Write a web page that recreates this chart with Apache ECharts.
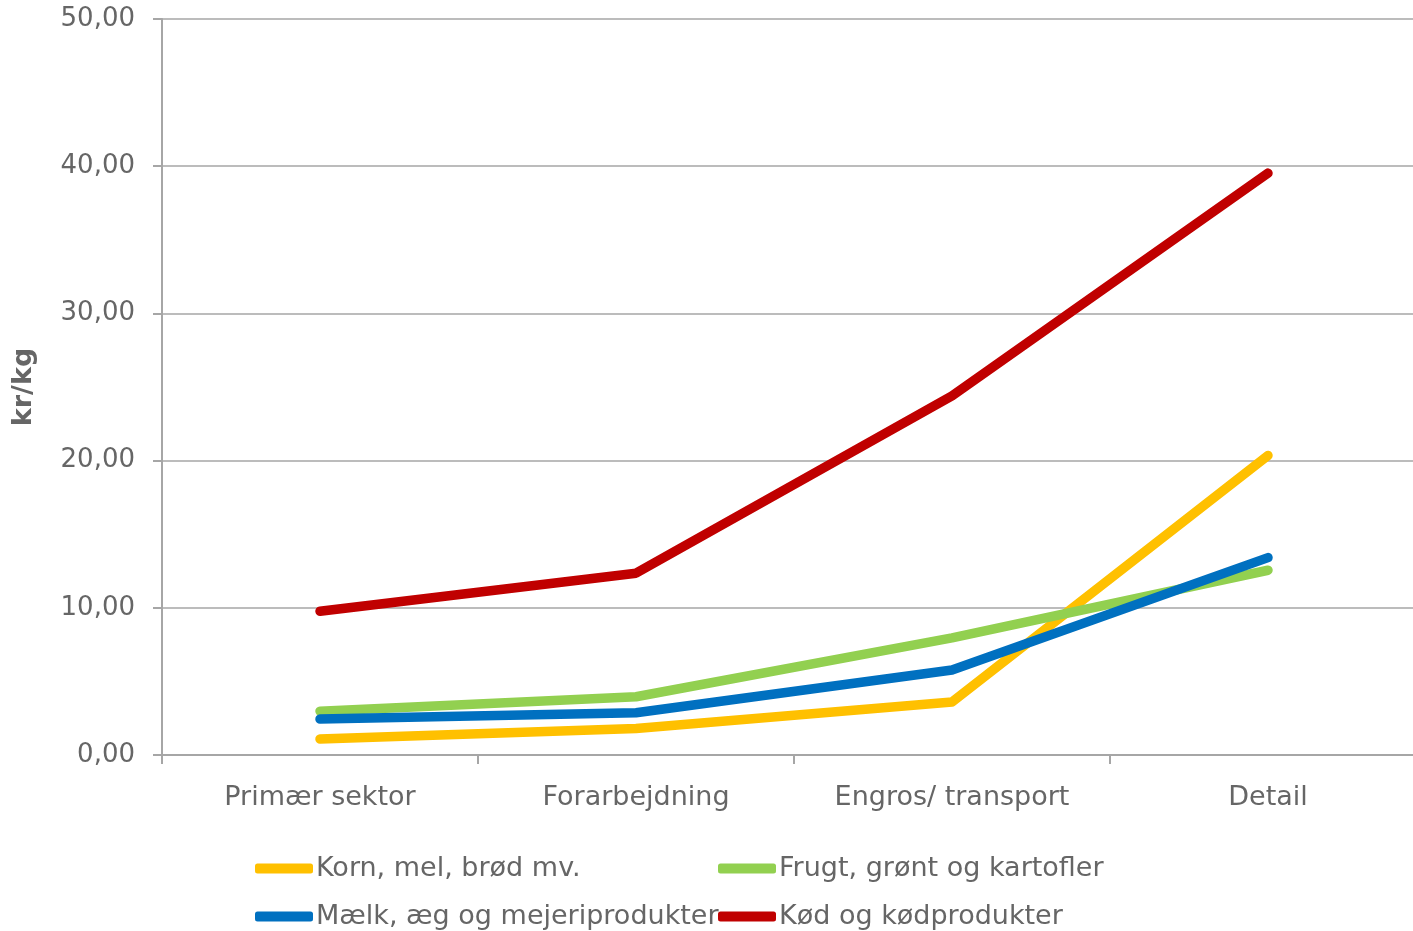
<!DOCTYPE html>
<html>
<head>
<meta charset="utf-8">
<script src="https://cdn.jsdelivr.net/npm/echarts@6/dist/echarts.min.js"></script>
<style>
  html, body { margin: 0; padding: 0; background: #fff; }
  #chart { width: 1413px; height: 931px; }
</style>
</head>
<body>
<div id="chart"></div>
<script>
// kategorier langs x-aksen
var categories = ["Primær sektor", "Forarbejdning", "Engros/ transport", "Detail"];

// kr/kg pr. led i kæden
var korn = [1.08, 1.8, 3.6, 20.35];
var frugt = [2.98, 3.96, 7.96, 12.55];
var maelk = [2.44, 2.87, 5.77, 13.41];
var koed = [9.77, 12.35, 24.4, 39.53];

var seriesNames = ["Korn, mel, brød mv.", "Frugt, grønt og kartofler", "Mælk, æg og mejeriprodukter", "Kød og kødprodukter"];
var seriesColors = ["#FFC000", "#92D050", "#0070C0", "#C00000"];
var seriesData = [korn, frugt, maelk, koed];

var yTicks = { min: 0, max: 50, interval: 10 };

var textColor = "#666666";
var gridColor = "#a6a6a6";
var font = "DejaVu Sans, Verdana, sans-serif";

var chart = echarts.init(document.getElementById("chart"));

// en legend pr. serie, så de ligger i to kolonner
var legendPos = [
  { left: 255, top: 855 },
  { left: 718, top: 855 },
  { left: 255, top: 903 },
  { left: 718, top: 903 }
];
var legends = seriesNames.map(function (name, i) {
  return {
    data: [name],
    left: legendPos[i].left,
    top: legendPos[i].top,
    icon: "roundRect",
    itemWidth: 58,
    itemHeight: 10,
    padding: 0,
    textStyle: { fontSize: 27, color: textColor, fontFamily: font, padding: [0, 0, 0, -2] }
  };
});

chart.setOption({
  animation: false,
  legend: legends,
  grid: {
    left: 162,
    right: -13,
    top: 19,
    bottom: 176,
    outerBoundsMode: "none",
    containLabel: false
  },
  xAxis: {
    type: "category",
    data: categories,
    boundaryGap: true,
    axisLine: { lineStyle: { color: gridColor, width: 2 } },
    axisTick: { show: true, length: 9, lineStyle: { color: gridColor, width: 2 } },
    axisLabel: { fontSize: 27, color: textColor, fontFamily: font, margin: 29 }
  },
  yAxis: {
    type: "value",
    min: yTicks.min,
    max: yTicks.max,
    interval: yTicks.interval,
    name: "kr/kg",
    nameLocation: "middle",
    nameGap: 125,
    nameTextStyle: { fontSize: 27, fontWeight: "bold", color: textColor, fontFamily: font },
    axisLine: { show: true, lineStyle: { color: gridColor, width: 2 } },
    axisTick: { show: true, length: 9, lineStyle: { color: gridColor, width: 2 } },
    splitLine: { lineStyle: { color: gridColor, width: 1.5 } },
    axisLabel: {
      fontSize: 26,
      color: textColor,
      fontFamily: font,
      margin: 27,
      formatter: function (v) { return v.toFixed(2).replace(".", ","); }
    }
  },
  series: seriesNames.map(function (name, i) {
    return {
      name: name,
      type: "line",
      data: seriesData[i],
      showSymbol: false,
      symbol: "none",
      itemStyle: { color: seriesColors[i] },
      lineStyle: { color: seriesColors[i], width: 9.5, cap: "round", join: "round" }
    };
  })
});
</script>
</body>
</html>
